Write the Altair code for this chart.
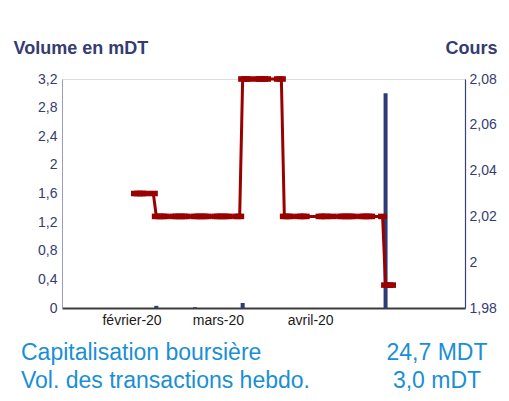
import altair as alt
import pandas as pd

# ---------------- data ----------------
price_dates = [
    "2020-02-04", "2020-02-05", "2020-02-06", "2020-02-07", "2020-02-10",
    "2020-02-11", "2020-02-12", "2020-02-13", "2020-02-14",
    "2020-02-17", "2020-02-18", "2020-02-19", "2020-02-20", "2020-02-21",
    "2020-02-24", "2020-02-25", "2020-02-26", "2020-02-27", "2020-02-28",
    "2020-03-02", "2020-03-03", "2020-03-04", "2020-03-05", "2020-03-06",
    "2020-03-09", "2020-03-10",
    "2020-03-11", "2020-03-12", "2020-03-13",
    "2020-03-16", "2020-03-17", "2020-03-18", "2020-03-19",
    "2020-03-23", "2020-03-24",
    "2020-03-25", "2020-03-26", "2020-03-27",
    "2020-03-30", "2020-03-31", "2020-04-01",
    "2020-04-06", "2020-04-07", "2020-04-08", "2020-04-10",
    "2020-04-13", "2020-04-14", "2020-04-15", "2020-04-16", "2020-04-17",
    "2020-04-20", "2020-04-21", "2020-04-22", "2020-04-23",
    "2020-04-27",
    "2020-04-28", "2020-04-29", "2020-04-30",
]
price_values = [
    2.03, 2.03, 2.03, 2.03, 2.03,
    2.02, 2.02, 2.02, 2.02,
    2.02, 2.02, 2.02, 2.02, 2.02,
    2.02, 2.02, 2.02, 2.02, 2.02,
    2.02, 2.02, 2.02, 2.02, 2.02,
    2.02, 2.02,
    2.08, 2.08, 2.08,
    2.08, 2.08, 2.08, 2.08,
    2.08, 2.08,
    2.02, 2.02, 2.02,
    2.02, 2.02, 2.02,
    2.02, 2.02, 2.02, 2.02,
    2.02, 2.02, 2.02, 2.02, 2.02,
    2.02, 2.02, 2.02, 2.02,
    2.02,
    1.99, 1.99, 1.99,
]

volume_dates = ["2020-02-11", "2020-02-24", "2020-03-11", "2020-04-28"]
volume_values = [0.03, 0.01, 0.07, 3.0]

left_ticks = [0, 0.4, 0.8, 1.2, 1.6, 2.0, 2.4, 2.8, 3.2]
right_ticks = [1.98, 2.0, 2.02, 2.04, 2.06, 2.08]
month_ticks = ["2020-02-01", "2020-03-01", "2020-04-01"]
month_labels = ["février-20", "mars-20", "avril-20"]
x_domain = ["2020-01-12", "2020-05-23"]

left_title = "Volume en mDT"
right_title = "Cours"
info_labels = ["Capitalisation boursière", "Vol. des transactions hebdo."]
info_values = ["24,7 MDT", "3,0 mDT"]

# ---------------- styling ----------------
FONT = "Liberation Sans"
RED = "#990000"
NAVY = "#2f3a78"
TEXT_NAVY = "#353c70"
BLUE = "#1a8fd6"


def dt(s):
    y, m, d = (int(v) for v in s.split("-"))
    return alt.DateTime(year=y, month=m, date=d, utc=True)


label_expr = "''"
for s, lab in reversed(list(zip(month_ticks, month_labels))):
    m = int(s.split("-")[1]) - 1
    label_expr = f"utcmonth(datum.value) == {m} ? '{lab}' : ({label_expr})"

x_scale = alt.Scale(type="utc", domain=[dt(x_domain[0]), dt(x_domain[1])], nice=False)
x_axis = alt.Axis(
    values=[dt(s) for s in month_ticks],
    labelExpr=label_expr,
    labelOffset=5,
    labelFlush=False,
    ticks=False,
    grid=False,
    title=None,
    domainColor="#3c3c3c",
    domainWidth=2,
    labelColor="#1a1a1a",
    labelFont=FONT,
    labelFontSize=14,
    labelPadding=5,
)

vol_df = pd.DataFrame({"date": volume_dates, "volume": volume_values})
price_df = pd.DataFrame({"date": price_dates, "price": price_values})

bars = alt.Chart(vol_df).mark_bar(color=NAVY, size=4).encode(
    x=alt.X("date:T", scale=x_scale, axis=x_axis),
    y=alt.Y(
        "volume:Q",
        scale=alt.Scale(domain=[0, 3.2], nice=False, zero=True),
        axis=alt.Axis(
            orient="left",
            values=left_ticks,
            labelExpr="replace(format(datum.value, '.1~f'), '.', ',')",
            grid=False,
            ticks=False,
            domainColor="#9a9dc2",
            domainWidth=1,
            labelColor=TEXT_NAVY,
            labelFont=FONT,
            labelFontSize=14,
            labelPadding=5,
            title=left_title,
            titleAngle=0,
            titleAlign="left",
            titleBaseline="alphabetic",
            titleX=-49,
            titleY=-26,
            titleFont=FONT,
            titleFontSize=18,
            titleFontWeight="bold",
            titleColor=TEXT_NAVY,
        ),
    ),
)

y_price = alt.Y(
    "price:Q",
    scale=alt.Scale(domain=[1.98, 2.08], nice=False, zero=False),
    axis=alt.Axis(
        orient="right",
        values=right_ticks,
        labelExpr="replace(format(datum.value, '.2~f'), '.', ',')",
        grid=False,
        ticks=False,
        domainColor="#3b4271",
        domainWidth=1.2,
        labelColor=TEXT_NAVY,
        labelFont=FONT,
        labelFontSize=14,
        labelPadding=4,
        title=right_title,
        titleAngle=0,
        titleAlign="right",
        titleBaseline="alphabetic",
        titleX=32,
        titleY=-26,
        titleFont=FONT,
        titleFontSize=18,
        titleFontWeight="bold",
        titleColor=TEXT_NAVY,
    ),
)

line = alt.Chart(price_df).mark_line(color=RED, strokeWidth=3).encode(
    x=alt.X("date:T", scale=x_scale, axis=x_axis),
    y=y_price,
)
markers = alt.Chart(price_df).mark_point(
    shape="M-1,-0.62L1,-0.62L1,0.62L-1,0.62Z",
    filled=True,
    size=81,
    color=RED,
    opacity=1,
    strokeWidth=0,
).encode(
    x=alt.X("date:T", scale=x_scale, axis=x_axis),
    y=y_price,
)
price_layer = alt.layer(line, markers)


def info_text(text, x, y, align):
    return alt.Chart(pd.DataFrame({"t": [text]})).mark_text(
        align=align, baseline="alphabetic", font=FONT, fontSize=23, color=BLUE
    ).encode(text="t:N", x=alt.value(x), y=alt.value(y))


texts = [
    info_text(info_labels[0], -41, 281, "left"),
    info_text(info_values[0], 375, 281, "center"),
    info_text(info_labels[1], -41, 308.5, "left"),
    info_text(info_values[1], 375, 308.5, "center"),
]

chart = (
    alt.layer(bars, price_layer, *texts)
    .resolve_scale(y="independent")
    .properties(
        width=403,
        height=229,
        autosize=alt.AutoSizeParams(type="none"),
        padding={"left": 54, "top": 71, "right": 36, "bottom": 85},
        background="white",
    )
    .configure_view(stroke=None)
    .configure(font=FONT)
)

chart.save("out.html", embed_options={"renderer": "svg", "actions": False})
